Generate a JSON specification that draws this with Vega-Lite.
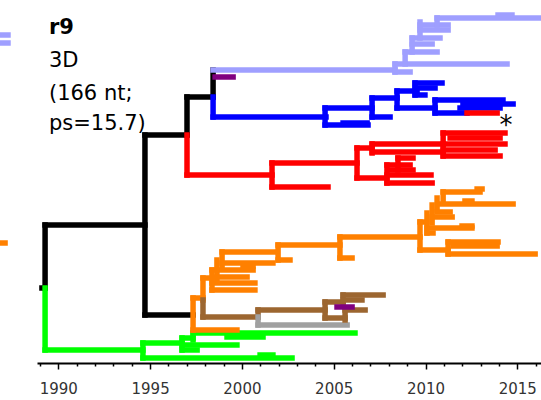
{
  "$schema": "https://vega.github.io/schema/vega-lite/v6.json",
  "width": 504,
  "height": 363,
  "padding": {"left": 37, "top": 0, "right": 0, "bottom": 37},
  "autosize": {"type": "none"},
  "background": "white",
  "config": {"view": {"stroke": null}},
  "encoding": {
    "x": {"field": "x", "type": "quantitative",
      "scale": {"domain": [1988.84, 2016.29], "nice": false, "zero": false},
      "axis": {
        "title": null, "grid": false,
        "values": [1989,1990,1991,1992,1993,1994,1995,1996,1997,1998,1999,2000,2001,2002,2003,2004,2005,2006,2007,2008,2009,2010,2011,2012,2013,2014,2015,2016],
        "labelExpr": "datum.value % 5 === 0 ? datum.label : ''",
        "domainColor": "black", "domainWidth": 2,
        "tickColor": "black", "tickWidth": 1.5,
        "tickSize": {"condition": {"test": "datum.value % 5 === 0", "value": 6}, "value": 3},
        "labelFont": "DejaVu Sans", "labelFontSize": 15, "labelColor": "#333333",
        "labelPadding": 12, "labelFlush": false, "labelOverlap": false, "labelBound": false, "format": "d"
      }},
    "y": {"field": "y", "type": "quantitative",
      "scale": {"domain": [0, 363], "nice": false, "zero": false}, "axis": null}
  },
  "layer": [
    {
      "data": {"values": [
        {"x":1986.87,"x2":1987.26,"y":328,"y2":328,"c":"lb"},
        {"x":1986.87,"x2":1987.26,"y":320,"y2":320,"c":"lb"},
        {"x":1986.87,"x2":1987.10,"y":120,"y2":120,"c":"o"},

        {"x":1989.11,"x2":1989.28,"y":75,"y2":75,"c":"k"},
        {"x":1989.28,"x2":1989.28,"y":138,"y2":75,"c":"k"},
        {"x":1989.28,"x2":1994.72,"y":138,"y2":138,"c":"k"},
        {"x":1994.72,"x2":1994.72,"y":228,"y2":48,"c":"k"},
        {"x":1994.72,"x2":1997.01,"y":228,"y2":228,"c":"k"},
        {"x":1994.72,"x2":1997.34,"y":48,"y2":48,"c":"k"},
        {"x":1997.01,"x2":1997.01,"y":266,"y2":228,"c":"k"},
        {"x":1997.01,"x2":1998.43,"y":266,"y2":266,"c":"k"},
        {"x":1998.43,"x2":1998.43,"y":293,"y2":266,"c":"k"},

        {"x":1989.28,"x2":1989.28,"y":75,"y2":13,"c":"g"},
        {"x":1989.28,"x2":1994.61,"y":13,"y2":13,"c":"g"},
        {"x":1994.61,"x2":1994.61,"y":20,"y2":5,"c":"g"},
        {"x":1994.61,"x2":1996.74,"y":20,"y2":20,"c":"g"},
        {"x":1996.74,"x2":1996.74,"y":25,"y2":13,"c":"g"},
        {"x":1996.74,"x2":1997.34,"y":25,"y2":25,"c":"g"},
        {"x":1997.34,"x2":1997.34,"y":30,"y2":23,"c":"g"},
        {"x":1997.34,"x2":2006.16,"y":30,"y2":30,"c":"g"},
        {"x":1999.19,"x2":2001.15,"y":26,"y2":26,"c":"g"},
        {"x":1996.74,"x2":1999.73,"y":18,"y2":18,"c":"g"},
        {"x":1994.61,"x2":2002.73,"y":5,"y2":5,"c":"g"},
        {"x":2000.99,"x2":2001.69,"y":8,"y2":8,"c":"g"},
        {"x":1996.74,"x2":1997.56,"y":13,"y2":13,"c":"g"},

        {"x":1997.01,"x2":1997.01,"y":228,"y2":188,"c":"r"},
        {"x":1997.01,"x2":2001.64,"y":188,"y2":188,"c":"r"},
        {"x":2001.64,"x2":2001.64,"y":200,"y2":176,"c":"r"},
        {"x":2001.64,"x2":2004.69,"y":176,"y2":176,"c":"r"},
        {"x":2001.64,"x2":2006.27,"y":200,"y2":200,"c":"r"},
        {"x":2006.27,"x2":2006.27,"y":215,"y2":185,"c":"r"},
        {"x":2006.27,"x2":2007.09,"y":215,"y2":215,"c":"r"},
        {"x":2007.09,"x2":2007.09,"y":219,"y2":210,"c":"r"},
        {"x":2007.09,"x2":2010.96,"y":219,"y2":219,"c":"r"},
        {"x":2007.09,"x2":2010.96,"y":211,"y2":211,"c":"r"},
        {"x":2010.96,"x2":2010.96,"y":230,"y2":207,"c":"r"},
        {"x":2010.96,"x2":2014.33,"y":230,"y2":230,"c":"r"},
        {"x":2011.34,"x2":2014.06,"y":225,"y2":225,"c":"r"},
        {"x":2010.96,"x2":2014.33,"y":219,"y2":219,"c":"r"},
        {"x":2010.96,"x2":2013.79,"y":213,"y2":213,"c":"r"},
        {"x":2010.96,"x2":2014.06,"y":207,"y2":207,"c":"r"},
        {"x":2006.27,"x2":2007.90,"y":185,"y2":185,"c":"r"},
        {"x":2007.90,"x2":2007.90,"y":198,"y2":180,"c":"r"},
        {"x":2007.90,"x2":2009.16,"y":198,"y2":198,"c":"r"},
        {"x":2008.07,"x2":2009.32,"y":193,"y2":193,"c":"r"},
        {"x":2007.90,"x2":2010.30,"y":188,"y2":188,"c":"r"},
        {"x":2007.90,"x2":2010.36,"y":180,"y2":180,"c":"r"},
        {"x":2008.50,"x2":2008.50,"y":205,"y2":193,"c":"r"},
        {"x":2008.50,"x2":2009.32,"y":205,"y2":205,"c":"r"},

        {"x":1998.43,"x2":2008.34,"y":293,"y2":293,"c":"lb"},
        {"x":2008.34,"x2":2008.34,"y":299,"y2":291,"c":"lb"},
        {"x":2008.34,"x2":2009.16,"y":291,"y2":291,"c":"lb"},
        {"x":2008.34,"x2":2014.44,"y":299,"y2":299,"c":"lb"},
        {"x":2008.89,"x2":2008.89,"y":311,"y2":299,"c":"lb"},
        {"x":2008.89,"x2":2010.63,"y":311,"y2":311,"c":"lb"},
        {"x":2009.27,"x2":2009.27,"y":325,"y2":311,"c":"lb"},
        {"x":2009.27,"x2":2010.36,"y":319,"y2":319,"c":"lb"},
        {"x":2009.27,"x2":2010.79,"y":325,"y2":325,"c":"lb"},
        {"x":2009.70,"x2":2009.70,"y":341,"y2":325,"c":"lb"},
        {"x":2009.70,"x2":2011.23,"y":333,"y2":333,"c":"lb"},
        {"x":2009.70,"x2":2011.23,"y":338,"y2":338,"c":"lb"},
        {"x":2010.63,"x2":2010.63,"y":345,"y2":338,"c":"lb"},
        {"x":2010.63,"x2":2016.18,"y":345,"y2":345,"c":"lb"},
        {"x":2013.95,"x2":2014.71,"y":348,"y2":348,"c":"lb"},

        {"x":1998.54,"x2":1999.52,"y":286,"y2":286,"c":"p"},

        {"x":1998.43,"x2":1998.43,"y":266,"y2":246,"c":"b"},
        {"x":1998.43,"x2":2004.58,"y":246,"y2":246,"c":"b"},
        {"x":2004.53,"x2":2004.53,"y":255,"y2":238,"c":"b"},
        {"x":2004.53,"x2":2007.09,"y":255,"y2":255,"c":"b"},
        {"x":2004.53,"x2":2006.87,"y":238,"y2":238,"c":"b"},
        {"x":2005.51,"x2":2006.82,"y":240,"y2":240,"c":"b"},
        {"x":2007.09,"x2":2007.09,"y":265,"y2":246,"c":"b"},
        {"x":2007.09,"x2":2008.07,"y":246,"y2":246,"c":"b"},
        {"x":2007.09,"x2":2008.45,"y":265,"y2":265,"c":"b"},
        {"x":2008.45,"x2":2008.45,"y":272,"y2":255,"c":"b"},
        {"x":2008.45,"x2":2009.54,"y":272,"y2":272,"c":"b"},
        {"x":2009.43,"x2":2009.43,"y":280,"y2":268,"c":"b"},
        {"x":2009.43,"x2":2010.90,"y":280,"y2":280,"c":"b"},
        {"x":2009.43,"x2":2010.52,"y":275,"y2":275,"c":"b"},
        {"x":2009.43,"x2":2009.97,"y":268,"y2":268,"c":"b"},
        {"x":2008.45,"x2":2010.52,"y":255,"y2":255,"c":"b"},
        {"x":2010.52,"x2":2010.52,"y":263,"y2":250,"c":"b"},
        {"x":2010.52,"x2":2014.22,"y":263,"y2":263,"c":"b"},
        {"x":2012.04,"x2":2014.77,"y":259,"y2":259,"c":"b"},
        {"x":2011.88,"x2":2014.06,"y":255,"y2":255,"c":"b"},
        {"x":2010.52,"x2":2012.26,"y":250,"y2":250,"c":"b"},
        {"x":2012.26,"x2":2013.90,"y":250,"y2":250,"c":"r"},

        {"x":1997.34,"x2":1997.34,"y":65,"y2":33,"c":"o"},
        {"x":1997.34,"x2":1999.73,"y":33,"y2":33,"c":"o"},
        {"x":1997.34,"x2":1997.88,"y":65,"y2":65,"c":"o"},
        {"x":1997.88,"x2":1997.88,"y":85,"y2":63,"c":"o"},
        {"x":1997.88,"x2":1997.88,"y":63,"y2":46,"c":"br"},
        {"x":1997.88,"x2":1998.37,"y":85,"y2":85,"c":"o"},
        {"x":1998.37,"x2":1998.37,"y":93,"y2":73,"c":"o"},
        {"x":1998.37,"x2":2000.61,"y":93,"y2":93,"c":"o"},
        {"x":1998.37,"x2":2000.71,"y":80,"y2":80,"c":"o"},
        {"x":1998.37,"x2":2000.71,"y":73,"y2":73,"c":"o"},
        {"x":1998.64,"x2":1998.64,"y":103,"y2":83,"c":"o"},
        {"x":1998.64,"x2":2000.28,"y":86,"y2":86,"c":"o"},
        {"x":1998.92,"x2":1998.92,"y":111,"y2":96,"c":"o"},
        {"x":1998.92,"x2":2001.69,"y":100,"y2":100,"c":"o"},
        {"x":2000.06,"x2":2000.61,"y":97,"y2":97,"c":"o"},
        {"x":1998.92,"x2":2001.91,"y":111,"y2":111,"c":"o"},
        {"x":2001.97,"x2":2001.97,"y":118,"y2":103,"c":"o"},
        {"x":2001.97,"x2":2002.62,"y":103,"y2":103,"c":"o"},
        {"x":2001.97,"x2":2005.34,"y":118,"y2":118,"c":"o"},
        {"x":2005.34,"x2":2005.34,"y":126,"y2":105,"c":"o"},
        {"x":2005.34,"x2":2006.00,"y":105,"y2":105,"c":"o"},
        {"x":2005.34,"x2":2009.70,"y":126,"y2":126,"c":"o"},
        {"x":2009.70,"x2":2009.70,"y":141,"y2":113,"c":"o"},
        {"x":2009.70,"x2":2011.23,"y":113,"y2":113,"c":"o"},
        {"x":2011.23,"x2":2011.23,"y":121,"y2":109,"c":"o"},
        {"x":2011.23,"x2":2013.95,"y":121,"y2":121,"c":"o"},
        {"x":2011.23,"x2":2015.97,"y":109,"y2":109,"c":"o"},
        {"x":2011.50,"x2":2013.90,"y":117,"y2":117,"c":"o"},
        {"x":2009.70,"x2":2010.08,"y":141,"y2":141,"c":"o"},
        {"x":2010.08,"x2":2010.08,"y":150,"y2":130,"c":"o"},
        {"x":2010.08,"x2":2010.41,"y":130,"y2":130,"c":"o"},
        {"x":2010.08,"x2":2012.53,"y":135,"y2":135,"c":"o"},
        {"x":2011.99,"x2":2012.53,"y":137,"y2":137,"c":"o"},
        {"x":2010.36,"x2":2010.36,"y":158,"y2":140,"c":"o"},
        {"x":2010.36,"x2":2011.45,"y":146,"y2":146,"c":"o"},
        {"x":2010.63,"x2":2010.63,"y":165,"y2":153,"c":"o"},
        {"x":2010.63,"x2":2011.34,"y":151,"y2":151,"c":"o"},
        {"x":2010.79,"x2":2014.77,"y":159,"y2":159,"c":"o"},
        {"x":2012.15,"x2":2012.53,"y":162,"y2":162,"c":"o"},
        {"x":2010.96,"x2":2010.96,"y":171,"y2":161,"c":"o"},
        {"x":2010.96,"x2":2012.97,"y":171,"y2":171,"c":"o"},
        {"x":2012.81,"x2":2013.08,"y":174,"y2":174,"c":"o"},

        {"x":1997.88,"x2":2000.88,"y":46,"y2":46,"c":"br"},
        {"x":2000.88,"x2":2000.88,"y":53,"y2":46,"c":"br"},
        {"x":2000.88,"x2":2000.88,"y":46,"y2":38,"c":"gr"},
        {"x":2000.88,"x2":2005.73,"y":38,"y2":38,"c":"gr"},
        {"x":2000.88,"x2":2004.53,"y":53,"y2":53,"c":"br"},
        {"x":2004.53,"x2":2004.53,"y":61,"y2":45,"c":"br"},
        {"x":2004.53,"x2":2005.51,"y":61,"y2":61,"c":"br"},
        {"x":2005.51,"x2":2005.51,"y":68,"y2":60,"c":"br"},
        {"x":2005.51,"x2":2007.69,"y":68,"y2":68,"c":"br"},
        {"x":2005.51,"x2":2006.54,"y":63,"y2":63,"c":"br"},
        {"x":2004.53,"x2":2005.62,"y":45,"y2":45,"c":"br"},
        {"x":2005.62,"x2":2005.62,"y":53,"y2":43,"c":"br"},
        {"x":2005.62,"x2":2006.71,"y":53,"y2":53,"c":"br"},
        {"x":2005.18,"x2":2006.00,"y":56,"y2":56,"c":"p"}
      ]},
      "mark": {"type": "rule", "strokeWidth": 5.5, "strokeCap": "square"},
      "encoding": {
        "x2": {"field": "x2"},
        "y2": {"field": "y2"},
        "color": {"field": "c", "type": "nominal",
          "scale": {"domain": ["k","lb","b","r","o","br","g","gr","p"],
                    "range": ["#000000","#9f9fff","#0000ff","#ff0000","#ff8000","#9c6630","#00ff00","#a0a0a0","#800080"]},
          "legend": null}
      }
    },
    {
      "data": {"values": [{"label": "r9", "x": 1989.49, "y": 329}]},
      "mark": {"type": "text", "align": "left", "baseline": "alphabetic", "font": "DejaVu Sans", "fontSize": 21, "fontWeight": "bold", "color": "black"},
      "encoding": {"text": {"field": "label"}}
    },
    {
      "data": {"values": [
        {"label": "3D", "x": 1989.49, "y": 296},
        {"label": "(166 nt;", "x": 1989.49, "y": 263},
        {"label": "ps=15.7)", "x": 1989.49, "y": 233}
      ]},
      "mark": {"type": "text", "align": "left", "baseline": "alphabetic", "font": "DejaVu Sans", "fontSize": 21, "color": "black"},
      "encoding": {"text": {"field": "label"}}
    },
    {
      "data": {"values": [{"label": "*", "x": 2014.39, "y": 229}]},
      "mark": {"type": "text", "align": "center", "baseline": "alphabetic", "font": "DejaVu Sans", "fontSize": 26, "color": "black"},
      "encoding": {"text": {"field": "label"}}
    }
  ]
}
